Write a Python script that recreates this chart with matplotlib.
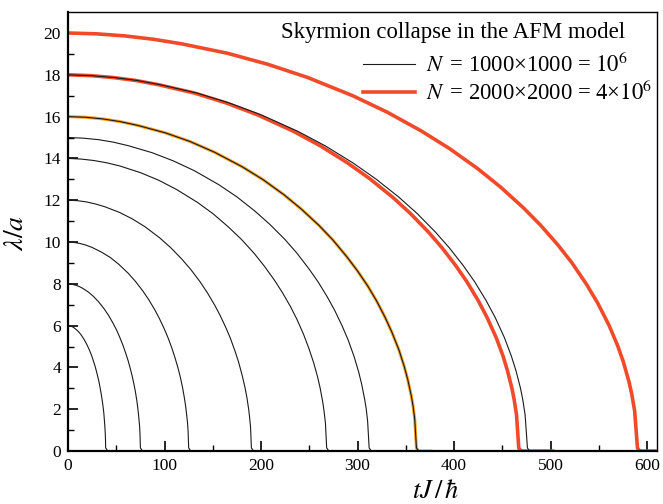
import matplotlib
matplotlib.use('Agg')
import matplotlib.pyplot as plt

plt.rcParams['font.family'] = ['Liberation Serif', 'DejaVu Serif']
plt.rcParams['mathtext.fontset'] = 'stix'

# skyrmion radius lambda/a vs time tJ/hbar
# N = 1000x1000 runs (thin black)
t6 = [0, 2.0, 3.9, 5.9, 7.8, 10.9, 13.7, 16.4, 19.5, 21.8, 24.2, 26.1, 28.1, 29.6, 31.2, 32.4,
      33.5, 34.5, 35.5, 36.3, 37.1, 37.6, 38.0, 38.4, 38.6, 38.8, 39.0, 41.0, 43.0, 48]
lam6 = [6, 5.99, 5.96, 5.91, 5.84, 5.71, 5.55, 5.36, 5.10, 4.87, 4.60, 4.34, 4.05, 3.79, 3.49, 3.24,
        2.96, 2.70, 2.40, 2.13, 1.81, 1.52, 1.28, 1.00, 0.82, 0.58, 0.15, 0.02, 0, 0]

t8 = [0, 3.8, 7.5, 11.3, 15, 21, 26.3, 31.5, 37.5, 42, 46.5, 50.3, 54, 57, 60, 62.3,
      64.5, 66.4, 68.3, 69.8, 71.3, 72.4, 73.1, 73.9, 74.3, 74.6, 75, 77, 79, 84]
lam8 = [8, 7.98, 7.94, 7.88, 7.79, 7.61, 7.40, 7.15, 6.80, 6.49, 6.13, 5.79, 5.40, 5.05, 4.65, 4.32,
        3.95, 3.60, 3.20, 2.84, 2.41, 2.02, 1.71, 1.33, 1.09, 0.77, 0.15, 0.02, 0, 0]

t10 = [0, 6.3, 12.5, 18.8, 25, 35, 43.8, 52.5, 62.5, 70, 77.5, 83.8, 90, 95, 100, 103.8,
       107.5, 110.6, 113.8, 116.3, 118.8, 120.6, 121.9, 123.1, 123.8, 124.4, 125, 127, 129, 134]
lam10 = [10, 9.98, 9.93, 9.85, 9.74, 9.51, 9.26, 8.94, 8.50, 8.11, 7.66, 7.23, 6.75, 6.31, 5.82, 5.40,
         4.94, 4.50, 4.00, 3.55, 3.01, 2.53, 2.14, 1.66, 1.36, 0.96, 0.15, 0.02, 0, 0]

t12 = [0, 9.5, 19, 28.5, 38, 53.2, 66.5, 79.8, 95, 106.4, 117.8, 127.3, 136.8, 144.4, 152, 157.7,
       163.4, 168.2, 172.9, 176.7, 180.5, 183.4, 185.3, 187.2, 188.1, 189.1, 190, 192, 194, 200]
lam12 = [12, 11.98, 11.92, 11.82, 11.69, 11.42, 11.11, 10.73, 10.20, 9.73, 9.19, 8.68, 8.10, 7.57, 6.98, 6.48,
         5.92, 5.40, 4.80, 4.26, 3.61, 3.03, 2.57, 1.99, 1.63, 1.15, 0.15, 0.02, 0, 0]

t14 = [0, 13.4, 26.8, 40.2, 53.6, 75.0, 93.8, 112.6, 134, 150.1, 166.2, 179.6, 193.0, 203.7, 214.4, 222.4,
       230.5, 237.2, 243.9, 249.2, 254.6, 258.6, 261.3, 264.0, 265.3, 266.7, 268, 270, 272, 280]
lam14 = [14, 13.97, 13.90, 13.79, 13.64, 13.32, 12.96, 12.51, 11.90, 11.36, 10.72, 10.13, 9.45, 8.83, 8.14, 7.56,
         6.91, 6.30, 5.60, 4.96, 4.21, 3.54, 3.00, 2.32, 1.90, 1.34, 0.15, 0.02, 0, 0]

t15 = [0, 15.6, 31.2, 46.8, 62.4, 87.4, 109.2, 131.0, 156, 174.7, 193.4, 209.0, 224.6, 237.1, 249.6, 259.0,
       268.3, 276.1, 283.9, 290.2, 296.4, 301.1, 304.2, 307.3, 308.9, 310.4, 312, 314, 316, 322]
lam15 = [15, 14.97, 14.90, 14.78, 14.61, 14.27, 13.88, 13.41, 12.75, 12.17, 11.49, 10.85, 10.13, 9.47, 8.72, 8.10,
         7.40, 6.75, 6.00, 5.32, 4.52, 3.79, 3.21, 2.49, 2.04, 1.44, 0.15, 0.02, 0, 0]

t16 = [0, 18.1, 36.1, 54.2, 72.2, 101.1, 126.4, 151.6, 180.5, 202.2, 223.8, 241.9, 259.9, 274.4, 288.8, 299.6,
       310.5, 319.5, 328.5, 335.7, 343.0, 348.4, 352.0, 355.6, 357.4, 359.2, 361, 363, 365, 376]
lam16 = [16, 15.97, 15.89, 15.76, 15.58, 15.22, 14.81, 14.30, 13.60, 12.98, 12.26, 11.57, 10.80, 10.10, 9.30, 8.64,
         7.90, 7.20, 6.40, 5.67, 4.82, 4.04, 3.42, 2.66, 2.18, 1.54, 0.15, 0.02, 0, 0]

t18 = [0, 23.8, 47.6, 71.4, 95.2, 133.3, 166.6, 199.9, 238, 266.6, 295.1, 318.9, 342.7, 361.8, 380.8, 395.1,
       409.4, 421.3, 433.2, 442.7, 452.2, 459.3, 464.1, 468.9, 471.2, 473.6, 476, 478, 480, 486]
lam18 = [18, 17.96, 17.87, 17.73, 17.53, 17.13, 16.66, 16.09, 15.30, 14.60, 13.79, 13.02, 12.15, 11.36, 10.47, 9.72,
         8.88, 8.10, 7.20, 6.38, 5.42, 4.55, 3.85, 2.99, 2.45, 1.73, 0.15, 0.02, 0, 0]

# N = 2000x2000 runs (thick red)
t18_big = [0, 23.4, 46.7, 70.1, 93.4, 130.8, 163.5, 196.1, 233.5, 261.5, 289.5, 312.9, 336.2, 354.9, 373.6, 387.6,
           401.6, 413.3, 425.0, 434.3, 443.7, 450.7, 455.3, 460.0, 462.3, 464.7, 467, 469, 471, 502]
lam18_big = [18, 17.96, 17.87, 17.73, 17.53, 17.13, 16.66, 16.09, 15.30, 14.60, 13.79, 13.02, 12.15, 11.36, 10.47, 9.72,
             8.88, 8.10, 7.20, 6.38, 5.42, 4.55, 3.85, 2.99, 2.45, 1.73, 0.15, 0.02, 0, 0]

t20_big = [0, 29.5, 59, 88.5, 118, 165.2, 206.5, 247.8, 295, 330.4, 365.8, 395.3, 424.8, 448.4, 472, 489.7,
           507.4, 522.2, 536.9, 548.7, 560.5, 569.4, 575.3, 581.2, 584.1, 587.1, 590, 592, 594, 608]
lam20_big = [20, 19.96, 19.86, 19.70, 19.48, 19.03, 18.51, 17.88, 17.00, 16.22, 15.32, 14.47, 13.50, 12.62, 11.63, 10.80,
             9.87, 9.00, 8.00, 7.09, 6.02, 5.05, 4.28, 3.32, 2.72, 1.92, 0.15, 0.02, 0, 0]

red = '#f04a2a'
orange = '#f5a024'
black = '#1a1a1a'

fig = plt.figure(figsize=(6.63, 5.04), dpi=100)
ax = fig.add_axes([0.1026, 0.105, 0.888, 0.871])

ax.plot(t20_big, lam20_big, color=red, lw=2.6)
ax.plot(t18_big, lam18_big, color=red, lw=2.6)
ax.plot(t16, lam16, color=orange, lw=2.2)

for t, lam in [(t6, lam6), (t8, lam8), (t10, lam10), (t12, lam12), (t14, lam14),
               (t15, lam15), (t16, lam16), (t18, lam18)]:
    ax.plot(t, lam, color=black, lw=0.8)

ax.set_xlim(0, 610)
ax.set_ylim(0, 21)
ax.set_xticks(range(0, 601, 100))
ax.set_xticks(range(50, 601, 100), minor=True)
ax.set_yticks(range(0, 21, 2))
ax.set_yticks(range(1, 21, 2), minor=True)
ax.tick_params(which='major', direction='in', length=7, width=1.2, labelsize=12.5,
               top=False, right=False, pad=5)
ax.tick_params(which='minor', direction='in', length=4, width=1.0, top=False, right=False)
for s in ['left', 'bottom']:
    ax.spines[s].set_linewidth(1.6)
for s in ['top', 'right']:
    ax.spines[s].set_linewidth(1.0)

fig.text(0.025, 0.538, r'$\lambda/a$', rotation=90, fontsize=20, ha='center', va='center')
fig.text(0.657, 0.002, r'$tJ\,/\,\hbar$', fontsize=19, ha='center', va='bottom')

ax.text(0.362, 0.953, 'Skyrmion collapse in the AFM model', transform=ax.transAxes,
        fontsize=16.4, ha='left', va='center')
h1, = ax.plot([], [], color=black, lw=0.8)
h2, = ax.plot([], [], color=red, lw=2.6)
ax.legend([h1, h2], [r'$N\,$ = 1000×1000 = $10^6$', r'$N\,$ = 2000×2000 = 4×$10^6$'],
          loc='upper right', bbox_to_anchor=(1.0, 0.918), frameon=False, fontsize=16.3,
          handlelength=2.3, handletextpad=0.5, labelspacing=0.15, borderpad=0.2,
          borderaxespad=0.0)

fig.savefig('out.png', dpi=100)
